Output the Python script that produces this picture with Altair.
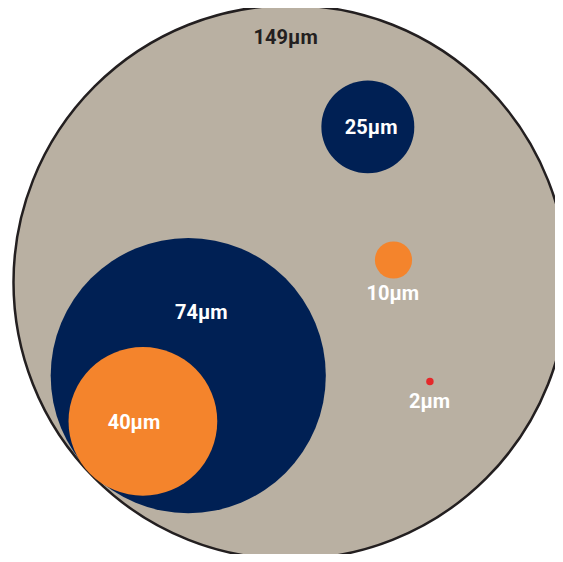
import altair as alt
import pandas as pd

# Particle diameters (µm) and their centres (µm, relative to the large circle's centre)
labels = ["149µm", "25µm", "10µm", "2µm", "74µm", "40µm"]
diameters = [149, 25, 10, 2, 74, 40]
cx = [0.0, 20.8, 27.7, 37.5, -27.5, -39.7]
cy = [0.0, 41.8, 6.0, -26.7, -25.1, -37.4]
fills = ["#B9B0A2", "#002054", "#F4842C", "#E5282A", "#002054", "#F4842C"]

# Label positions (µm) and colours
label_x = [-1.3, 21.7, 27.5, 37.4, -24.0, -42.1]
label_y = [65.7, 41.4, -3.2, -32.2, -8.3, -37.8]
label_colors = ["#231F20", "#FFFFFF", "#FFFFFF", "#FFFFFF", "#FFFFFF", "#FFFFFF"]

df = pd.DataFrame({
    "label": labels, "d": diameters, "x": cx, "y": cy, "fill": fills,
    "lx": label_x, "ly": label_y, "tcolor": label_colors,
    "order": list(range(len(labels))),
})

W, H = 547, 546
k = 554 / 149  # px per µm
x_dom = [-282.5 / k, (W - 282.5) / k]
y_dom = [-(H - 274.3) / k, 274.3 / k]

xs = alt.Scale(domain=x_dom, nice=False, zero=False)
ys = alt.Scale(domain=y_dom, nice=False, zero=False)
size_scale = alt.Scale(type="pow", exponent=2, domain=[0, 149], range=[0, 554 ** 2])

base = alt.Chart(df)

big = base.transform_filter(alt.datum.d == 149).mark_circle(
    opacity=1, stroke="#231F20", strokeWidth=2.5, strokeOpacity=1, clip=False
).encode(
    x=alt.X("x:Q", scale=xs, axis=None),
    y=alt.Y("y:Q", scale=ys, axis=None),
    size=alt.Size("d:Q", scale=size_scale, legend=None),
    fill=alt.Fill("fill:N", scale=None),
)

small = base.transform_filter(alt.datum.d < 149).mark_circle(
    opacity=1, clip=False
).encode(
    x=alt.X("x:Q", scale=xs, axis=None),
    y=alt.Y("y:Q", scale=ys, axis=None),
    size=alt.Size("d:Q", scale=size_scale, legend=None),
    fill=alt.Fill("fill:N", scale=None),
    order=alt.Order("order:Q"),
)

text = base.mark_text(
    font="Roboto", fontSize=20, fontWeight="bold", baseline="middle", align="center", clip=False
).encode(
    x=alt.X("lx:Q", scale=xs, axis=None),
    y=alt.Y("ly:Q", scale=ys, axis=None),
    text="label:N",
    color=alt.Color("tcolor:N", scale=None),
)

chart = alt.layer(big, small, text).properties(
    width=W, height=H, padding=0, background="#FFFFFF",
    autosize=alt.AutoSizeParams(type="none"),
).configure_view(stroke=None)

chart.save("out.html", embed_options={"renderer": "svg", "actions": False})
